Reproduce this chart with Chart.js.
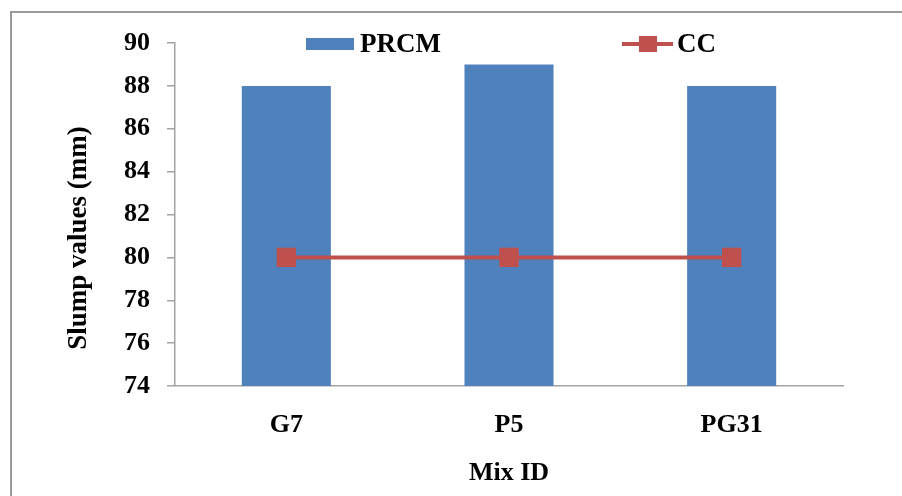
<!DOCTYPE html>
<html>
<head>
<meta charset="utf-8">
<script src="https://cdn.jsdelivr.net/npm/chart.js@4/dist/chart.umd.min.js"></script>
<style>
  html, body { margin: 0; padding: 0; background: #ffffff; }
  #wrap { width: 902px; height: 496px; }
</style>
</head>
<body>
<div id="wrap"><canvas id="chart" width="902" height="496"></canvas></div>
<script>
// Slump test results per mix
const categories = ['G7', 'P5', 'PG31'];
const prcmValues = [88, 89, 88];
const ccValues = [80, 80, 80];
const yMin = 74;
const yMax = 90;
const yStep = 2;

const BAR_COLOR = '#4f81bd';
const LINE_COLOR = '#c0504d';
const AXIS_COLOR = '#a3a3a3';
const FONT_FAMILY = '"Liberation Serif", "Times New Roman", serif';

// Frame, legend and vertical axis title
const decorations = {
  id: 'decorations',
  beforeDraw(chart) {
    const ctx = chart.ctx;
    ctx.save();
    ctx.strokeStyle = '#9a9a9a';
    ctx.lineWidth = 2;
    ctx.strokeRect(11, 12, 1000, 1000);
    ctx.restore();
  },
  afterDraw(chart) {
    const ctx = chart.ctx;
    const area = chart.chartArea;
    ctx.save();
    ctx.font = 'bold 27px ' + FONT_FAMILY;
    ctx.fillStyle = '#000000';
    ctx.textBaseline = 'middle';
    ctx.textAlign = 'left';

    const ly = area.top + 1;
    // PRCM entry
    ctx.fillStyle = BAR_COLOR;
    ctx.fillRect(306, ly - 6, 48, 12);
    ctx.fillStyle = '#000000';
    ctx.fillText(chart.data.datasets[1].label, 360, ly + 1);

    // CC entry
    ctx.strokeStyle = LINE_COLOR;
    ctx.lineWidth = 4;
    ctx.beginPath();
    ctx.moveTo(622, ly);
    ctx.lineTo(673, ly);
    ctx.stroke();
    ctx.fillStyle = LINE_COLOR;
    ctx.fillRect(639, ly - 8, 18, 16);
    ctx.fillStyle = '#000000';
    ctx.fillText(chart.data.datasets[0].label, 677, ly + 1);

    // vertical axis title
    ctx.translate(79, 238);
    ctx.rotate(-Math.PI / 2);
    ctx.textAlign = 'center';
    ctx.fillText('Slump values (mm)', 0, 0);
    ctx.restore();
  }
};

new Chart(document.getElementById('chart'), {
  type: 'bar',
  data: {
    labels: categories,
    datasets: [
      {
        type: 'line',
        label: 'CC',
        data: ccValues,
        borderColor: LINE_COLOR,
        backgroundColor: LINE_COLOR,
        borderWidth: 4,
        pointStyle: 'rect',
        pointRadius: 13,
        pointBorderWidth: 1,
        pointBackgroundColor: LINE_COLOR,
        pointBorderColor: LINE_COLOR,
        tension: 0,
        order: 1
      },
      {
        type: 'bar',
        label: 'PRCM',
        data: prcmValues,
        backgroundColor: BAR_COLOR,
        borderWidth: 0,
        barPercentage: 0.4,
        categoryPercentage: 1.0,
        order: 2
      }
    ]
  },
  options: {
    responsive: false,
    animation: false,
    devicePixelRatio: 1,
    layout: { padding: { left: 0, right: 59, top: 43, bottom: 0 } },
    plugins: {
      legend: { display: false },
      tooltip: { enabled: false },
      title: { display: false }
    },
    scales: {
      x: {
        grid: { display: true, drawOnChartArea: false, drawTicks: false },
        border: { display: true, color: AXIS_COLOR, width: 1.5 },
        ticks: {
          color: '#000000',
          padding: 24,
          font: { family: FONT_FAMILY, size: 26, weight: 'bold' }
        },
        title: {
          display: true,
          text: 'Mix ID',
          color: '#000000',
          padding: { top: 0, bottom: 7 },
          font: { family: FONT_FAMILY, size: 26, weight: 'bold' }
        },
        afterFit(scale) { scale.height = 110; }
      },
      y: {
        min: yMin,
        max: yMax,
        grid: {
          display: true,
          drawOnChartArea: false,
          drawTicks: true,
          tickLength: 8,
          color: AXIS_COLOR,
          lineWidth: 1.5
        },
        border: { display: true, color: AXIS_COLOR, width: 1.5 },
        ticks: {
          stepSize: yStep,
          color: '#000000',
          padding: 17,
          font: { family: FONT_FAMILY, size: 26, weight: 'bold' }
        },
        afterFit(scale) { scale.width = 175; }
      }
    }
  },
  plugins: [decorations]
});
</script>
</body>
</html>
